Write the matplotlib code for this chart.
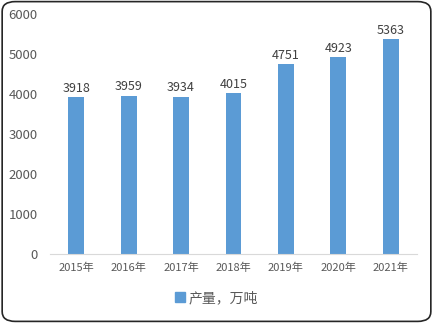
import matplotlib.pyplot as plt
from matplotlib.patches import FancyBboxPatch, Patch

plt.rcParams['font.family'] = ['Noto Sans CJK SC', 'DejaVu Sans']

years = ['2015年', '2016年', '2017年', '2018年', '2019年', '2020年', '2021年']
output = [3918, 3959, 3934, 4015, 4751, 4923, 5363]
yticks = [0, 1000, 2000, 3000, 4000, 5000, 6000]

bar_color = '#5B9BD5'
text_gray = '#595959'

fig = plt.figure(figsize=(4.33, 3.23), dpi=100)
ax = fig.add_axes([0.1155, 0.2136, 0.8475, 0.743])

x = range(len(years))
bars = ax.bar(x, output, width=0.3, color=bar_color)
for b, v in zip(bars, output):
    ax.text(b.get_x() + b.get_width() / 2, v + 60, str(v), ha='center', va='bottom',
            fontsize=9, color='#404040')

ax.set_xlim(-0.5, len(years) - 0.5)
ax.set_ylim(0, 6000)
ax.set_yticks(yticks)
ax.set_xticks(list(x))
ax.set_xticklabels(years)
ax.tick_params(axis='both', length=0, colors=text_gray, labelsize=8)
ax.tick_params(axis='y', pad=9, labelsize=9.5)
ax.tick_params(axis='x', pad=6)
for s in ['top', 'right', 'left']:
    ax.spines[s].set_visible(False)
ax.spines['bottom'].set_color('#D9D9D9')

fig.legend(handles=[Patch(color=bar_color, label='产量，万吨')], loc='center',
           bbox_to_anchor=(0.5, 0.077), frameon=False, fontsize=10,
           handlelength=0.7, handleheight=0.7, handletextpad=0.3,
           labelcolor=text_gray)

border = FancyBboxPatch((0.005, 0.005), 0.99, 0.99, boxstyle='round,pad=0,rounding_size=0.03',
                        transform=fig.transFigure, fill=False, edgecolor='#262626', linewidth=1.2)
fig.patches.append(border)

fig.savefig('out.png', dpi=100)
